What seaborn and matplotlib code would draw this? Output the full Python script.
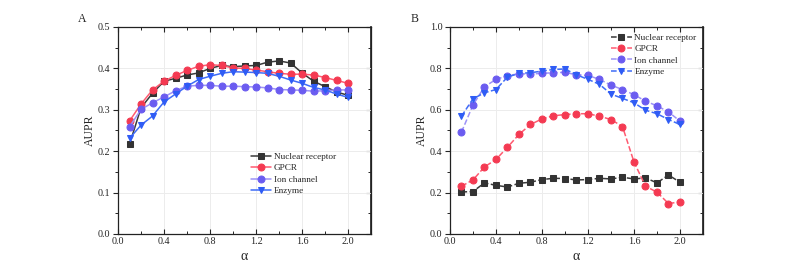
import numpy as np
import pandas as pd
import matplotlib.pyplot as plt
import seaborn as sns
from matplotlib.ticker import MultipleLocator

alpha = [round(0.1 * i, 1) for i in range(1, 21)]
series_names = ['Nuclear receptor', 'GPCR', 'Ion channel', 'Enzyme']

# panel A
a_nuclear = [0.217, 0.305, 0.340, 0.369, 0.376, 0.384, 0.389, 0.400, 0.407, 0.404,
             0.406, 0.407, 0.415, 0.418, 0.413, 0.389, 0.369, 0.356, 0.343, 0.335]
a_gpcr = [0.273, 0.314, 0.348, 0.369, 0.383, 0.395, 0.405, 0.409, 0.407, 0.401,
          0.400, 0.396, 0.392, 0.388, 0.386, 0.386, 0.384, 0.378, 0.371, 0.364]
a_ion = [0.259, 0.301, 0.317, 0.331, 0.346, 0.357, 0.359, 0.359, 0.357, 0.357,
         0.356, 0.355, 0.353, 0.349, 0.348, 0.347, 0.345, 0.346, 0.348, 0.348]
a_enzyme = [0.231, 0.263, 0.285, 0.319, 0.338, 0.357, 0.373, 0.381, 0.388, 0.392,
            0.391, 0.390, 0.388, 0.381, 0.372, 0.364, 0.354, 0.348, 0.338, 0.330]

# panel B
b_nuclear = [0.203, 0.205, 0.247, 0.235, 0.227, 0.245, 0.250, 0.263, 0.269, 0.268,
             0.261, 0.263, 0.269, 0.266, 0.274, 0.266, 0.271, 0.247, 0.285, 0.250]
b_gpcr = [0.231, 0.261, 0.324, 0.360, 0.419, 0.481, 0.529, 0.556, 0.571, 0.577,
          0.581, 0.581, 0.569, 0.553, 0.519, 0.348, 0.231, 0.202, 0.147, 0.155]
b_ion = [0.492, 0.623, 0.711, 0.747, 0.765, 0.774, 0.773, 0.776, 0.779, 0.781,
         0.769, 0.766, 0.747, 0.719, 0.698, 0.673, 0.642, 0.619, 0.590, 0.545]
b_enzyme = [0.569, 0.653, 0.682, 0.698, 0.758, 0.776, 0.779, 0.787, 0.795, 0.797,
            0.769, 0.747, 0.723, 0.676, 0.655, 0.634, 0.598, 0.581, 0.553, 0.529]

line_colors = ['#3a3a3a', '#ff5a70', '#9d92f7', '#3f6cf7']
marker_colors = ['#333333', '#f43a52', '#6b5cf0', '#2f5cf5']
markers = ['s', 'o', 'o', 'v']

sns.set_theme(style='white')
plt.rcParams['font.family'] = ['Liberation Serif', 'DejaVu Serif']


def draw_panel(ax, values, ylim, ystep, linestyle, label, legend_loc):
    for name, ys, lc, mc, mk in zip(series_names, values, line_colors,
                                    marker_colors, markers):
        df = pd.DataFrame({'alpha': alpha, 'AUPR': ys})
        sns.lineplot(data=df, x='alpha', y='AUPR', ax=ax, color=lc, lw=1.1,
                     linestyle=linestyle, marker=mk, markersize=5,
                     markerfacecolor=mc, markeredgecolor=mc, label=name)
    ax.set_xlim(0, 2.2)
    ax.set_ylim(*ylim)
    ax.xaxis.set_major_locator(MultipleLocator(0.4))
    ax.xaxis.set_minor_locator(MultipleLocator(0.2))
    ax.yaxis.set_major_locator(MultipleLocator(ystep))
    ax.yaxis.set_minor_locator(MultipleLocator(ystep / 2))
    ax.set_xticks([0.0, 0.4, 0.8, 1.2, 1.6, 2.0])
    ax.grid(True, which='major', color='#ececec', lw=0.7)
    ax.tick_params(axis='x', which='both', direction='in', top=True,
                   bottom=True, labelsize=7.3, pad=2)
    ax.tick_params(axis='y', which='both', direction='out', left=True,
                   labelsize=7.3, pad=2)
    ax.tick_params(which='major', length=3.5, width=0.8)
    ax.tick_params(which='minor', length=2, width=0.7)
    for s in ax.spines.values():
        s.set_color('#222222')
        s.set_linewidth(0.9)
    sec = ax.secondary_yaxis('right')
    sec.yaxis.set_major_locator(MultipleLocator(ystep))
    sec.yaxis.set_minor_locator(MultipleLocator(ystep / 2))
    sec.tick_params(which='both', direction='in', labelright=False)
    sec.tick_params(which='major', length=3.5, width=0.8)
    sec.tick_params(which='minor', length=2, width=0.7)
    ax.set_xlabel('α', fontsize=10, labelpad=3)
    ax.set_ylabel('AUPR', fontsize=8.5, labelpad=1)
    ax.text(-0.14, 1.04, label, transform=ax.transAxes, fontsize=8.5,
            ha='center', va='center')
    ax.legend(loc=legend_loc, frameon=False, fontsize=6.7, handlelength=2.2,
              handletextpad=0.3, labelspacing=0.3, borderaxespad=0.3)


fig = plt.figure(figsize=(7.89, 2.76), dpi=100)
ax_a = fig.add_axes([0.1496, 0.1522, 0.3207, 0.75])
ax_b = fig.add_axes([0.5703, 0.1522, 0.3207, 0.75])

draw_panel(ax_a, [a_nuclear, a_gpcr, a_ion, a_enzyme], (0, 0.5), 0.1, '-',
           'A', (0.51, 0.17))
draw_panel(ax_b, [b_nuclear, b_gpcr, b_ion, b_enzyme], (0, 1.0), 0.2, '--',
           'B', 'upper right')

fig.savefig('out.png', dpi=100)
